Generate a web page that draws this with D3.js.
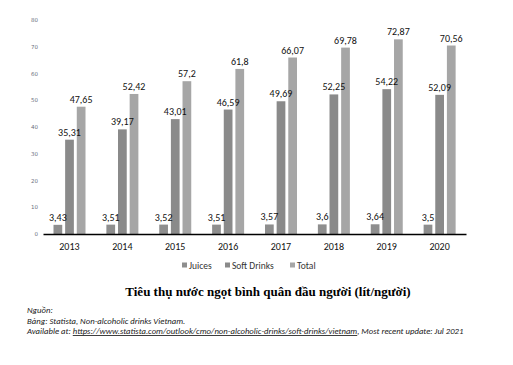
<!DOCTYPE html>
<html><head><meta charset="utf-8">
<script src="https://cdn.jsdelivr.net/npm/d3@7"></script>
<style>body{margin:0;background:#fff}svg{display:block}</style>
</head><body>
<svg id="c" width="513" height="365"></svg>
<script>
const years = ["2013","2014","2015","2016","2017","2018","2019","2020"];
const seriesNames = ["Juices","Soft Drinks","Total"];
const juices = [3.43,3.51,3.52,3.51,3.57,3.6,3.64,3.5];
const softDrinks = [35.31,39.17,43.01,46.59,49.69,52.25,54.22,52.09];
const total = [47.65,52.42,57.2,61.8,66.07,69.78,72.87,70.56];
const yTicks = [0,10,20,30,40,50,60,70,80];
const colors = ["#8e8e8e","#8a8a8a","#a6a6a6"];

const svg = d3.select("#c");
const ff = "Carlito, Calibri, 'Liberation Sans', sans-serif";
const seriesVals = [juices, softDrinks, total];
const x = d3.scaleBand().domain(years).range([43,466]).paddingInner(0).paddingOuter(0);
const y = d3.scaleLinear().domain([0,80]).range([234,20.3]);
const inner = d3.scaleBand().domain(seriesNames).range([10.5, 42.5]).paddingInner(0.25);

const fmt = v => String(v).replace(".", ",");

// y tick labels
svg.append("g").selectAll("text").data(yTicks).join("text")
  .attr("x", 38).attr("y", d => y(d)).attr("dy", "0.35em")
  .attr("text-anchor", "end")
  .attr("font-family", "DejaVu Sans, sans-serif").attr("font-size", 5.5)
  .attr("fill", "#6b6f80").text(d => d);

// bars
seriesNames.forEach((s, si) => {
  svg.append("g").selectAll("rect").data(years).join("rect")
    .attr("x", (d) => x(d) + inner(s))
    .attr("y", (d, i) => y(seriesVals[si][i]))
    .attr("width", inner.bandwidth())
    .attr("height", (d, i) => y(0) - y(seriesVals[si][i]))
    .attr("fill", colors[si]);
});
// labels on top
seriesNames.forEach((s, si) => {
  svg.append("g").selectAll("text").data(years).join("text")
    .attr("x", d => x(d) + inner(s) + inner.bandwidth() / 2)
    .attr("y", (d, i) => y(seriesVals[si][i]) - 4)
    .attr("text-anchor", "middle")
    .attr("font-family", ff).attr("font-size", 10)
    .attr("fill", "#111").text((d, i) => fmt(seriesVals[si][i]));
});

// x axis
const xa = svg.append("g").attr("transform", "translate(0,234)")
  .call(d3.axisBottom(x).tickSize(0).tickPadding(9));
xa.select(".domain").attr("stroke", "#000").attr("stroke-width", 1.4);
xa.selectAll("text").attr("font-family", ff)
  .attr("font-size", 10).attr("fill", "#111");

// legend
const legX = [182, 225, 290];
const leg = svg.append("g");
seriesNames.forEach((s, i) => {
  leg.append("rect").attr("x", legX[i]).attr("y", 262.5).attr("width", 5).attr("height", 5).attr("fill", colors[i]);
  leg.append("text").attr("x", legX[i] + 7).attr("y", 268.5)
    .attr("font-family", ff).attr("font-size", 9.5)
    .attr("fill", "#333").text(s);
});

// title
svg.append("text").attr("x", 268).attr("y", 296).attr("text-anchor", "middle")
  .attr("font-family", "'Liberation Serif', 'Times New Roman', serif").attr("font-weight", "bold")
  .attr("font-size", 13).attr("fill", "#000")
  .text("Tiêu thụ nước ngọt bình quân  đầu người (lít/người)");

// source notes
const notes = svg.append("g").attr("font-family", ff).attr("font-size", 8.7).attr("font-style", "italic").attr("fill", "#222");
notes.append("text").attr("x", 27).attr("y", 313).text("Nguồn:");
notes.append("text").attr("x", 27).attr("y", 323.5).text("Bảng: Statista, Non-alcoholic drinks Vietnam.");
const t3 = notes.append("text").attr("x", 27).attr("y", 334);
t3.append("tspan").text("Available at: ");
t3.append("tspan").attr("text-decoration", "underline").text("https://www.statista.com/outlook/cmo/non-alcoholic-drinks/soft-drinks/vietnam");
t3.append("tspan").text(", Most recent update: Jul 2021");
</script>
</body></html>
